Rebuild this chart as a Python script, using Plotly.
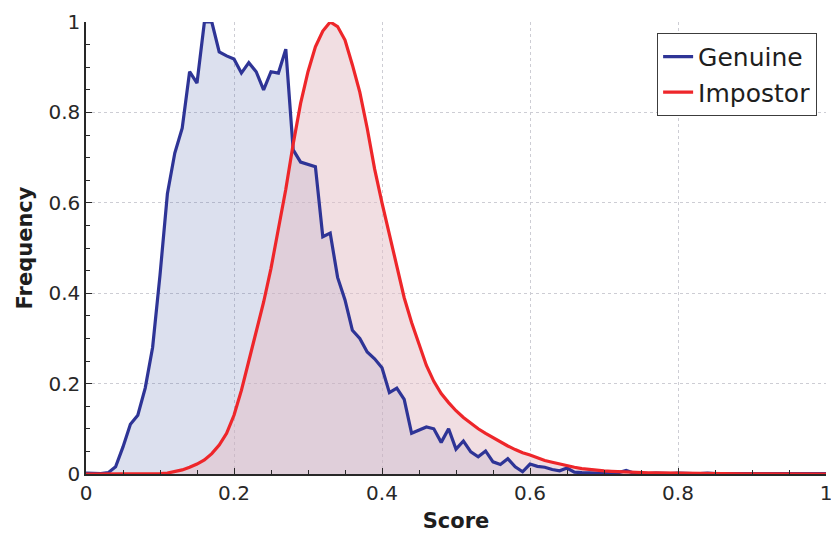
import plotly.graph_objects as go

score = [round(i * 0.01, 2) for i in range(101)]

genuine = [
    0.002, 0.002, 0.001, 0.003, 0.016, 0.06, 0.11, 0.13, 0.19, 0.28,
    0.44, 0.62, 0.71, 0.765, 0.89, 0.865, 1.0, 1.0, 0.934, 0.925,
    0.918, 0.887, 0.91, 0.89, 0.85, 0.89, 0.887, 0.94, 0.717, 0.69,
    0.685, 0.68, 0.525, 0.533, 0.435, 0.385, 0.318, 0.30, 0.27, 0.255,
    0.235, 0.18, 0.19, 0.165, 0.09, 0.097, 0.104, 0.10, 0.07, 0.1,
    0.055, 0.073, 0.049, 0.038, 0.051, 0.027, 0.021, 0.034, 0.016, 0.005,
    0.022, 0.017, 0.015, 0.01, 0.007, 0.013, 0.004, 0.003, 0.002, 0.002,
    0.002, 0.002, 0.003, 0.008, 0.002, 0.002, 0.001, 0.002, 0.001, 0.001,
    0.002, 0.001, 0.001, 0.001, 0.002, 0.001, 0.001, 0.001, 0.001, 0.001,
    0.001, 0.001, 0.001, 0.001, 0.001, 0.001, 0.001, 0.001, 0.001, 0.001,
    0.001,
]

impostor = [
    0.0, 0.0, 0.0, 0.0, 0.0, 0.0, 0.0, 0.0, 0.0, 0.0,
    0.001, 0.002, 0.005, 0.009, 0.015, 0.022, 0.031, 0.045, 0.064, 0.09,
    0.13, 0.185, 0.25, 0.315, 0.38, 0.455, 0.545, 0.63, 0.73, 0.82,
    0.89, 0.945, 0.98, 1.0, 0.99, 0.96, 0.905, 0.845, 0.765, 0.675,
    0.60, 0.53, 0.46, 0.39, 0.335, 0.285, 0.24, 0.205, 0.178, 0.158,
    0.14, 0.125, 0.112, 0.10, 0.09, 0.08, 0.071, 0.062, 0.054, 0.047,
    0.042, 0.036, 0.03, 0.026, 0.022, 0.018, 0.015, 0.012, 0.01, 0.008,
    0.007, 0.006, 0.005, 0.004, 0.0035, 0.003, 0.0027, 0.0024, 0.0021, 0.0019,
    0.0017, 0.0015, 0.0013, 0.0012, 0.001, 0.0009, 0.0008, 0.0007, 0.0006, 0.0005,
    0.0005, 0.0004, 0.0004, 0.0003, 0.0003, 0.0002, 0.0002, 0.0002, 0.0001, 0.0001,
    0.0,
]

tick_vals = [0, 0.2, 0.4, 0.6, 0.8, 1]
tick_text = ["0", "0.2", "0.4", "0.6", "0.8", "1"]
minor_vals = [0.05, 0.1, 0.15, 0.25, 0.3, 0.35, 0.45, 0.5, 0.55, 0.65, 0.7, 0.75, 0.85, 0.9, 0.95]

blue = "rgb(46,52,150)"
red = "rgb(238,38,42)"

fig = go.Figure()
# fills first
fig.add_trace(go.Scatter(
    x=score, y=genuine, mode="lines", line=dict(width=0), showlegend=False,
    fill="tozeroy", fillcolor="rgba(80,100,170,0.2)", hoverinfo="skip",
))
fig.add_trace(go.Scatter(
    x=score, y=impostor, mode="lines", line=dict(width=0), showlegend=False,
    fill="tozeroy", fillcolor="rgba(228,190,198,0.5)", hoverinfo="skip",
))
# lines on top
fig.add_trace(go.Scatter(
    x=score, y=genuine, name="Genuine", mode="lines",
    line=dict(color=blue, width=3.2),
))
fig.add_trace(go.Scatter(
    x=score, y=impostor, name="Impostor", mode="lines",
    line=dict(color=red, width=3.2),
))

axis_common = dict(
    showgrid=True, gridcolor="rgb(205,205,212)", griddash="dot", gridwidth=1,
    showline=True, linecolor="rgb(40,40,40)", linewidth=1.5,
    ticks="inside", ticklen=6, tickcolor="rgb(40,40,40)",
    tickfont=dict(family="DejaVu Sans", size=20, color="rgb(40,40,40)"),
    zeroline=False, mirror=False, automargin=False,
    tickmode="array", tickvals=tick_vals, ticktext=tick_text,
    ticklabeloverflow="allow",
    range=[0, 1],
    minor=dict(tickvals=minor_vals, ticks="inside", ticklen=4,
               tickcolor="rgb(40,40,40)", showgrid=False),
)

fig.update_layout(
    width=831, height=534,
    margin=dict(l=86, r=5, t=22, b=60),
    paper_bgcolor="white", plot_bgcolor="white",
    xaxis=dict(
        title=dict(text="<b>Score</b>", font=dict(family="DejaVu Sans", size=21, color="rgb(30,30,30)"), standoff=10),
        **axis_common,
    ),
    yaxis=dict(
        title=dict(text="<b>Frequency</b>", font=dict(family="DejaVu Sans", size=21, color="rgb(30,30,30)"), standoff=10),
        **axis_common,
    ),
    legend=dict(
        x=0.988, y=0.976, xanchor="right", yanchor="top",
        bgcolor="white", bordercolor="rgb(60,60,60)", borderwidth=1,
        font=dict(family="DejaVu Sans", size=25, color="rgb(30,30,30)"),
        tracegroupgap=0,
    ),
    showlegend=True,
)

fig.write_html(
    "out.html",
    config={"displayModeBar": False},
    post_script="document.body.style.margin='0';document.body.style.overflow='hidden';",
)
